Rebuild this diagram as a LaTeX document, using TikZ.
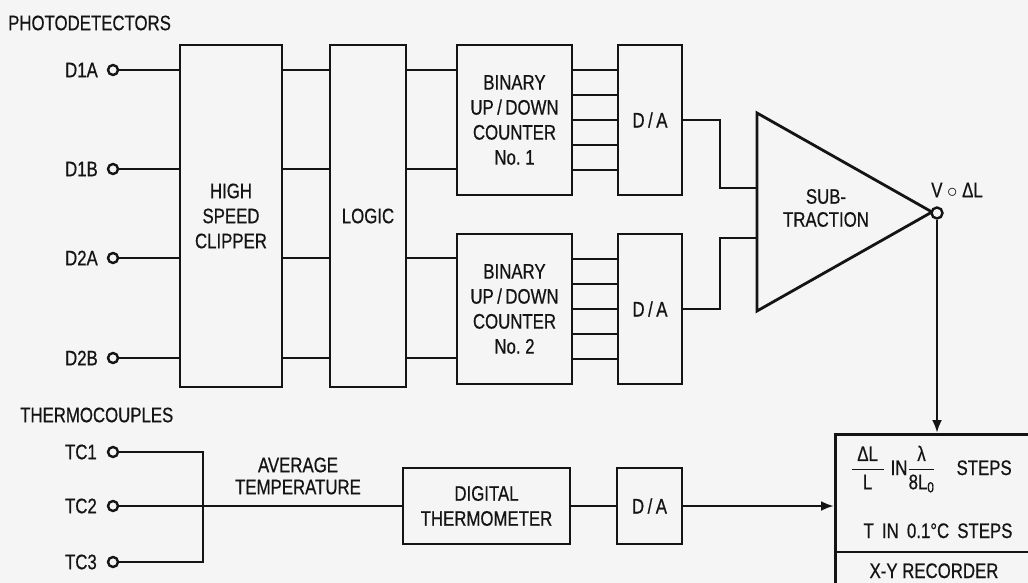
\documentclass[tikz,border=0pt]{standalone}
\usepackage{amsmath}
\usepackage{fontspec}
\setmainfont{Liberation Sans}[FakeStretch=0.8,FakeBold=0.6]
\usetikzlibrary{arrows.meta}
\definecolor{bgc}{RGB}{245,245,245}
\definecolor{ink}{RGB}{20,20,20}
\begin{document}
\begin{tikzpicture}[x=1pt,y=-1pt,
  every node/.style={font=\fontsize{21}{25}\selectfont, text=ink},
  blk/.style={draw=ink, line width=2.8pt, align=center, inner sep=0pt},
  lbl/.style={inner sep=0pt, align=center},
  term/.style={circle, draw=ink, line width=2.4pt, minimum size=10pt, inner sep=0pt, fill=bgc},
  wire/.style={draw=ink, line width=2.8pt},
  arr/.style={wire, -{Latex[length=13pt,width=10pt]}}]
\useasboundingbox (0,0) rectangle (1028,583);
\fill[bgc] (0,0) rectangle (1028,583);
\clip (0,0) rectangle (1028,583);

% titles
\node[lbl, anchor=west] (phot) at (8,23) {PHOTODETECTORS};
\node[lbl, anchor=west] (thermo) at (20,415) {THERMOCOUPLES};

% photodetector terminals
\node[term] (d1a) at (113,70) {};
\node[term] (d1b) at (113,169) {};
\node[term] (d2a) at (113,258) {};
\node[term] (d2b) at (113,358) {};
\node[lbl, anchor=east] (d1al) at (98,70) {D1A};
\node[lbl, anchor=east] (d1bl) at (98,169) {D1B};
\node[lbl, anchor=east] (d2al) at (98,258) {D2A};
\node[lbl, anchor=east] (d2bl) at (98,358) {D2B};

% blocks
\node[blk, minimum width=102pt, minimum height=342pt] (clip) at (231,216) {HIGH\\SPEED\\CLIPPER};
\node[blk, minimum width=76pt, minimum height=342pt] (logic) at (368,216) {LOGIC};
\node[blk, minimum width=115pt, minimum height=150pt] (cnt1) at (514.5,120) {BINARY\\UP\,/\,DOWN\\COUNTER\\No.~1};
\node[blk, minimum width=115pt, minimum height=150pt] (cnt2) at (514.5,309) {BINARY\\UP\,/\,DOWN\\COUNTER\\No.~2};
\node[blk, minimum width=64pt, minimum height=150pt] (da1) at (650,120) {D\,/\,A};
\node[blk, minimum width=64pt, minimum height=150pt] (da2) at (650,309) {D\,/\,A};

% wires detectors -> clipper -> logic -> counters
\foreach \t in {d1a,d1b,d2a,d2b} {
  \draw[wire] (\t) -- (clip.west |- \t);
  \draw[wire] (clip.east |- \t) -- (logic.west |- \t);
}
\foreach \t in {d1a,d1b} \draw[wire] (logic.east |- \t) -- (cnt1.west |- \t);
\foreach \t in {d2a,d2b} \draw[wire] (logic.east |- \t) -- (cnt2.west |- \t);
\foreach \o in {-50,-25,0,25,50} {
  \draw[wire] ([yshift=\o pt]cnt1.east) -- ([yshift=\o pt]da1.west);
  \draw[wire] ([yshift=\o pt]cnt2.east) -- ([yshift=\o pt]da2.west);
}

% subtraction amplifier
\coordinate (tA) at (757,113);
\coordinate (tB) at (757,311);
\coordinate (tC) at (932,212);
\draw[wire, line join=miter] (tA) -- (tC) -- (tB) -- cycle;
\node[lbl, font=\fontsize{21}{23}\selectfont] (subl) at (826,208) {SUB-\\TRACTION};
\coordinate (ti1) at (757,188);
\coordinate (ti2) at (757,238);
\coordinate (bend) at (720,0);
\draw[wire] (da1.east) -- (bend |- da1.east) -- (bend |- ti1) -- (ti1);
\draw[wire] (da2.east) -- (bend |- da2.east) -- (bend |- ti2) -- (ti2);
\node[term, minimum size=11pt] (vout) at (937,213) {};
\node[lbl] (vlab) at (957,190) {V $\circ$ ΔL};

% recorder
\node[draw=ink, line width=2.8pt, minimum width=240pt, minimum height=190pt, anchor=north west, inner sep=0pt] (rec) at (834,433) {};
\coordinate (divy) at (0,552);
\draw[wire] (rec.west |- divy) -- (rec.east |- divy);
\node[lbl, anchor=base] (fracl) at (931,475) {$\dfrac{\;\text{ΔL}\;}{\text{L}}$\;IN$\dfrac{\;\text{λ}\;}{\text{8L}_{\text{0}}}$\quad STEPS};
\node[lbl, anchor=base] (tstep) at (938,538) {T\, IN\, 0.1°C\, STEPS};
\node[lbl, anchor=base] (xyrec) at (934,578) {X-Y RECORDER};
\draw[arr] (vout) -- (vout |- rec.north);

% thermocouples
\node[term] (tc1) at (113,452) {};
\node[term] (tc2) at (113,506) {};
\node[term] (tc3) at (113,562) {};
\node[lbl, anchor=east] (tc1l) at (97,452) {TC1};
\node[lbl, anchor=east] (tc2l) at (97,506) {TC2};
\node[lbl, anchor=east] (tc3l) at (97,562) {TC3};
\coordinate (bus1) at (203,452);
\coordinate (bus3) at (203,562);
\draw[wire] (tc1) -- (bus1) -- (bus3) -- (tc3);
\node[lbl, font=\fontsize{21}{22}\selectfont] (avg) at (298,476) {AVERAGE\\TEMPERATURE};
\node[blk, minimum width=167pt, minimum height=76pt] (therm) at (486.5,506) {DIGITAL\\THERMOMETER};
\node[blk, minimum width=65pt, minimum height=76pt] (da3) at (649.5,506) {D\,/\,A};
\draw[wire] (tc2) -- (therm.west |- tc2);
\draw[wire] (therm) -- (da3);
\draw[arr] (da3) -- (rec.west |- da3);
\end{tikzpicture}
\end{document}
